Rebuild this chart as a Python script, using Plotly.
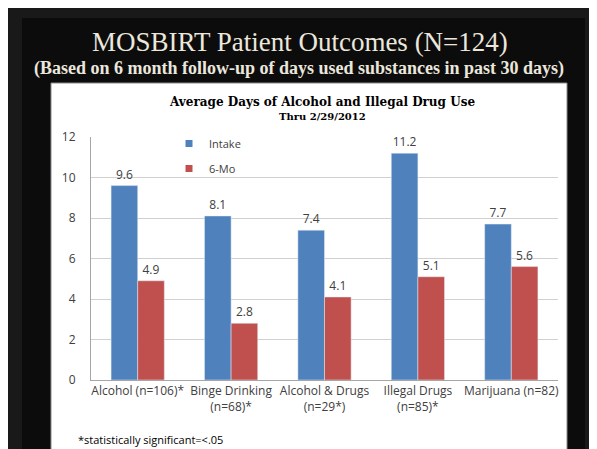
import plotly.graph_objects as go

categories = ["Alcohol (n=106)*", "Binge Drinking<br>(n=68)*", "Alcohol & Drugs<br>(n=29*)",
              "Illegal Drugs<br>(n=85)*", "Marijuana (n=82)"]
intake = [9.6, 8.1, 7.4, 11.2, 7.7]
six_mo = [4.9, 2.8, 4.1, 5.1, 5.6]
y_ticks = [0, 2, 4, 6, 8, 10, 12]

OFF = 8                # page body margin
W, H = 597 - OFF, 449 - OFF
L, R, T, B = 91, 558, 137, 380  # plot area in page px

def px(x):
    return (x - L) / (R - L)

def py(y):
    return (B - y) / (B - T)

BLUE, RED = "#4F81BD", "#C0504D"

fig = go.Figure()
fig.add_trace(go.Bar(name="Intake", x=categories, y=intake, marker_color=BLUE,
                     text=[f"{v:.1f}" for v in intake], textposition="outside",
                     textfont=dict(size=12, color="#404040"), cliponaxis=False,
                     showlegend=False))
fig.add_trace(go.Bar(name="6-Mo", x=categories, y=six_mo, marker_color=RED,
                     text=[f"{v:.1f}" for v in six_mo], textposition="outside",
                     textfont=dict(size=12, color="#404040"), cliponaxis=False,
                     showlegend=False))
# legend entries (small square keys, as in the reference)
fig.add_trace(go.Scatter(name="Intake", x=[None], y=[None], mode="markers",
                         marker=dict(symbol="square", size=7, color=BLUE), legendgroup="a"))
fig.add_trace(go.Scatter(name="6-Mo", x=[None], y=[None], mode="markers",
                         marker=dict(symbol="square", size=7, color=RED), legendgroup="b"))

shapes = [
    dict(type="rect", xref="paper", yref="paper", x0=px(0), x1=px(605), y0=py(0), y1=py(460),
         fillcolor="#191919", line=dict(color="#000000", width=4), layer="below"),
    dict(type="rect", xref="paper", yref="paper", x0=px(22), x1=px(585), y0=py(18), y1=py(460),
         fillcolor="#0c0c0c", line=dict(width=0), layer="below"),
    dict(type="rect", xref="paper", yref="paper", x0=px(51), x1=px(567), y0=py(83), y1=py(460),
         fillcolor="#ffffff", line=dict(color="#8a8a8a", width=1), layer="below"),
]

def ann(text, x, y, size, family, color, xanchor="center"):
    return dict(text=text, x=px(x), y=py(y), xref="paper", yref="paper", showarrow=False,
                xanchor=xanchor, yanchor="middle", font=dict(family=family, size=size, color=color))

annotations = [
    ann("MOSBIRT Patient Outcomes (N=124)", 300, 42, 27, "Liberation Serif, serif", "#ebe7dc"),
    ann("<b>(Based on 6 month follow-up of days used substances in past 30 days)</b>", 299, 68, 18,
        "Liberation Serif, serif", "#ebe7dc"),
    ann("<b>Average Days of Alcohol and Illegal Drug Use</b>", 322, 102, 12,
        "DejaVu Serif, serif", "#000000"),
    ann("<b>Thru 2/29/2012</b>", 322, 117, 10, "DejaVu Serif, serif", "#000000"),
    ann("*statistically significant=<.05", 76, 439, 11, "Open Sans, sans-serif", "#000000",
        xanchor="left"),
]

fig.update_layout(
    width=W, height=H,
    margin=dict(l=L - OFF, r=W - (R - OFF), t=T - OFF, b=H - (B - OFF), pad=0),
    paper_bgcolor="#ffffff", plot_bgcolor="rgba(0,0,0,0)",
    barmode="group", bargap=0.43, bargroupgap=0,
    font=dict(family="Open Sans, sans-serif", size=12, color="#404040"),
    showlegend=True,
    legend=dict(x=px(169), y=py(129), xref="paper", yref="paper", xanchor="left", yanchor="top",
                bgcolor="rgba(0,0,0,0)", font=dict(size=11, color="#404040"),
                tracegroupgap=6, itemwidth=30),
    shapes=shapes, annotations=annotations,
    xaxis=dict(showline=True, linecolor="#a6a6a6", linewidth=1, ticks="",
               tickfont=dict(size=12, color="#404040"), showgrid=False),
    yaxis=dict(range=[0, 12], tickvals=y_ticks, showgrid=True, gridcolor="#d0d0d0",
               showline=True, linecolor="#a6a6a6", linewidth=1, zeroline=False,
               ticks="outside", ticklen=12, tickcolor="rgba(0,0,0,0)",
               tickfont=dict(size=12, color="#404040")),
)

fig.write_html("out.html")
